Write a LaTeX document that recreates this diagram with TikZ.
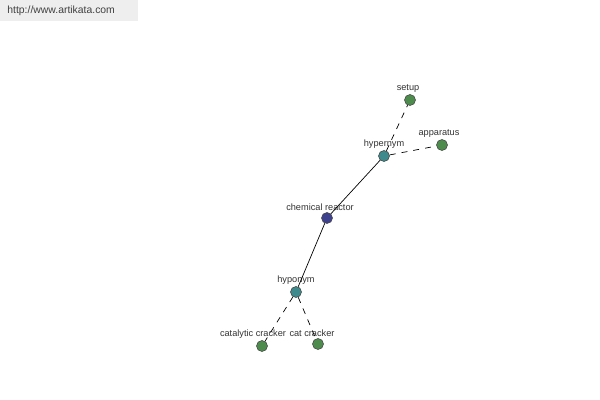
\documentclass[tikz,border=0pt]{standalone}
\usepackage{fontspec}
\setmainfont{Liberation Sans}
\usepackage{tikz}
\usetikzlibrary{positioning}
\definecolor{leafgreen}{HTML}{4E8C4E}
\definecolor{relteal}{HTML}{3E8A8C}
\definecolor{rootblue}{HTML}{3E428E}
\definecolor{markgray}{HTML}{EEEEEE}
\tikzstyle{word} = [circle, draw=black!70, line width=0.3pt, minimum size=5.5pt, inner sep=0pt]
\tikzstyle{lbl} = [font=\fontsize{4.6pt}{5pt}\selectfont, text=black!80, inner sep=0.5pt, label distance=0.2pt]
\tikzstyle{link} = [line width=0.35pt]
\tikzstyle{weak} = [line width=0.35pt, dashed, dash pattern=on 3pt off 3pt]

\begin{document}
\begin{tikzpicture}[x=0.5pt, y=-0.5pt]
        \useasboundingbox (0,0) rectangle (600,400);
        % Watermark
        \fill [markgray] (0,0) rectangle (138,21);
        \node (mark) [font=\fontsize{5.2pt}{6pt}\selectfont, text=black!75, anchor=west, inner sep=0pt] at (7,11) {http://www.artikata.com};

        % Nodes
        \node (reactor) [word, fill=rootblue, label={[lbl, xshift=-3.5pt]above:chemical reactor}] at (327,218) {};
        \node (hyper) [word, fill=relteal, label={[lbl]above:hypernym}] at (384,156) {};
        \node (hypo) [word, fill=relteal, label={[lbl]above:hyponym}] at (296,292) {};
        \node (setup) [word, fill=leafgreen, label={[lbl, xshift=-1pt]above:setup}] at (410,100) {};
        \node (apparatus) [word, fill=leafgreen, label={[lbl, xshift=-1.5pt]above:apparatus}] at (442,145) {};
        \node (catalytic) [word, fill=leafgreen, label={[lbl, xshift=-4.5pt]above:catalytic cracker}] at (262,346) {};
        \node (cat) [word, fill=leafgreen, label={[lbl, xshift=-3pt]above:cat cracker}] at (318,344) {};

        % Links
        \draw [link] (reactor) -- (hyper);
        \draw [link] (reactor) -- (hypo);
        \draw [weak] (hyper) -- (setup);
        \draw [weak] (hyper) -- (apparatus);
        \draw [weak] (hypo) -- (catalytic);
        \draw [weak] (hypo) -- (cat);
    \end{tikzpicture}
\end{document}
